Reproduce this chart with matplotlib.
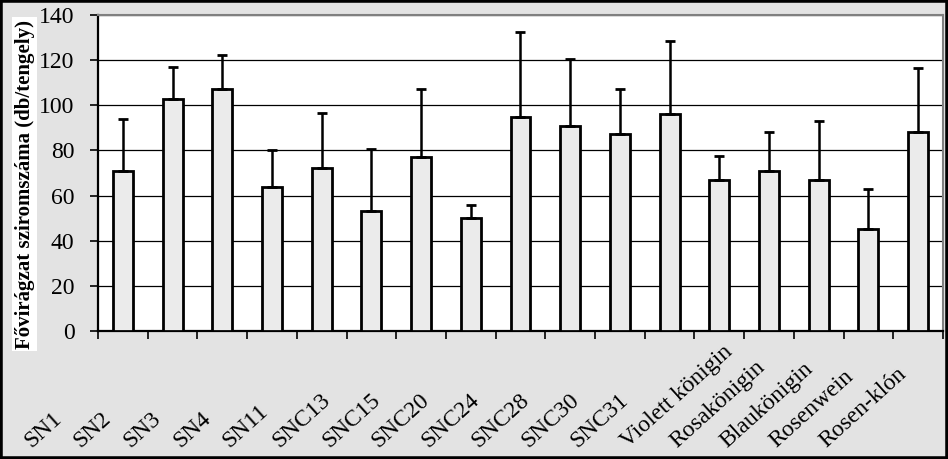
import numpy as np
import matplotlib.pyplot as plt
from matplotlib.patches import Rectangle

plt.rcParams["font.family"] = ["Liberation Serif", "DejaVu Serif"]

# data
cultivars = ["SN1", "SN2", "SN3", "SN4", "SN11", "SNC13", "SNC15", "SNC20",
             "SNC24", "SNC28", "SNC30", "SNC31", "Violett königin",
             "Rosakönigin", "Blaukönigin", "Rosenwein", "Rosen-klón"]
petals = [71, 103, 107, 64, 72, 53, 77, 50, 95, 91, 87.5, 96, 67, 71, 67, 45, 88]
petals_upper = [94, 117, 122.5, 80, 96.5, 80.5, 107, 56, 132.5, 120.5, 107,
                128.5, 77.5, 88, 93, 63, 116.5]

bg = "#e3e3e3"
x = np.arange(len(cultivars))
err = np.array(petals_upper) - np.array(petals)

fig = plt.figure(figsize=(9.48, 4.59), dpi=100, facecolor=bg)
ax = fig.add_axes([0.1034, 0.2789, 0.8913, 0.6884])
ax.set_facecolor("white")

ax.bar(x, petals, width=0.4, color="#ebebeb", edgecolor="black",
       linewidth=2, zorder=3)
ax.errorbar(x, petals, yerr=[np.zeros(len(x)), err], fmt="none",
            ecolor="black", elinewidth=1.8, capsize=3.6, capthick=2, zorder=4)

ax.set_ylim(0, 140)
ax.set_xlim(-0.5, len(x) - 0.5)
ax.set_yticks(np.arange(0, 141, 20))
ax.yaxis.grid(True, color="black", linewidth=0.9)
ax.set_axisbelow(True)
ax.tick_params(axis="y", labelsize=17, length=6, width=1.2, direction="out",
               pad=11)

ax.set_xticks(np.arange(-0.5, len(x), 1))
ax.set_xticklabels([])
ax.tick_params(axis="x", length=6, width=1.2, direction="out")

for s in ["top", "right"]:
    ax.spines[s].set_color("#808080")
    ax.spines[s].set_linewidth(1.5)
ax.spines["left"].set_linewidth(1.6)
ax.spines["bottom"].set_linewidth(1.6)

# slanted category labels, start points sit on a common baseline
for i, name in enumerate(cultivars):
    ax.text(i - 1.85, -0.37, name, transform=ax.get_xaxis_transform(),
            rotation=42, rotation_mode="anchor", ha="left", va="baseline",
            fontsize=17)

fig.text(0.026, 0.599, "Fővirágzat sziromszáma (db/tengely)", rotation=90,
         ha="center", va="center", fontsize=15, fontweight="bold",
         bbox=dict(facecolor="white", edgecolor="none", pad=2))

fig.patches.append(Rectangle((0, 0), 1, 1, transform=fig.transFigure,
                             fill=False, edgecolor="black", linewidth=4))

fig.savefig("out.png", dpi=100, facecolor=bg)
